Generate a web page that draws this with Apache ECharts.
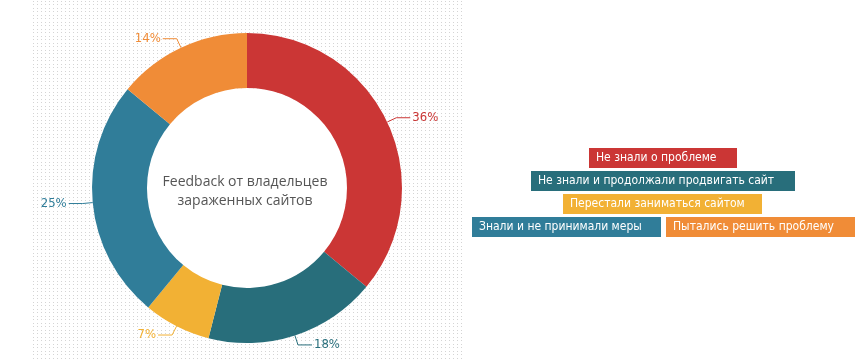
<!DOCTYPE html>
<html><head><meta charset="utf-8">
<script src="https://cdn.jsdelivr.net/npm/echarts@6/dist/echarts.min.js"></script>
<style>html,body{margin:0;padding:0;background:#fff}#c{width:863px;height:360px}</style>
</head><body><div id="c"></div>
<script>
const categories = ['Не знали о проблеме','Не знали и продолжали продвигать сайт','Перестали заниматься сайтом','Знали и не принимали меры','Пытались решить проблему'];
const values = [36, 18, 7, 25, 14];
const colors = ['#CB3635','#286E7B','#F2B134','#307D99','#F08C37'];
const centerTitle = 'Feedback от владельцев\nзараженных сайтов';
const legendRows = [[0],[1],[2],[3,4]];
const legendBoxWidths = [148, 264, 199, 189, 189];
const legendLefts = [584, 526, 558, 467];
const legendTops = [148, 171, 194, 217];

const pc = document.createElement('canvas');
pc.width = 4; pc.height = 7;
const g = pc.getContext('2d');
g.fillStyle = '#d4d4d4';
g.fillRect(1,1,1,1); g.fillRect(1,4,1,1);

const chart = echarts.init(document.getElementById('c'), null, {renderer:'canvas'});
const legendFont = '"DejaVu Sans Condensed", "Roboto Condensed", Roboto, sans-serif';
chart.setOption({
  animation: false,
  color: colors,
  graphic: [
    {type:'rect', z:-10, silent:true, shape:{x:32,y:0,width:433,height:360}, style:{fill:{image:pc, repeat:'repeat'}}},
    {type:'text', z:100, silent:true, x:245, y:192, style:{text:centerTitle, align:'center', verticalAlign:'middle', fill:'#555', font:'14px "Open Sans"', lineHeight:19}}
  ],
  legend: legendRows.map((row, r) => ({
    left: legendLefts[r], top: legendTops[r], orient:'horizontal', padding:0,
    itemWidth:0, itemHeight:0, itemGap:0, selectedMode:false,
    data: row.map(i => ({
      name: categories[i], icon:'rect',
      textStyle: {color:'#fff', backgroundColor: colors[i], fontFamily: legendFont, fontSize:12, lineHeight:14,
        padding:[3,0,3,7], width: legendBoxWidths[i]-7}
    }))
  })),
  series: [
    {type:'pie', center:[247,188], radius:[0,100], silent:true, z:1, label:{show:false}, labelLine:{show:false},
     data:[{value:1, name:'', itemStyle:{color:'#fff'}}]},
    {type:'pie', center:[247,188], radius:[100,155], startAngle:90, clockwise:true, z:2,
     avoidLabelOverlap:false,
     label:{show:true, formatter:'{c}%', fontFamily:legendFont, fontSize:13, color:'inherit', distanceToLabelLine:2},
     labelLine:{show:true, length:10, length2:14, lineStyle:{width:1}},
     emphasis:{disabled:true},
     data: categories.map((n,i)=>({name:n, value:values[i], itemStyle:{color:colors[i]}}))
    }
  ]
});
</script></body></html>
